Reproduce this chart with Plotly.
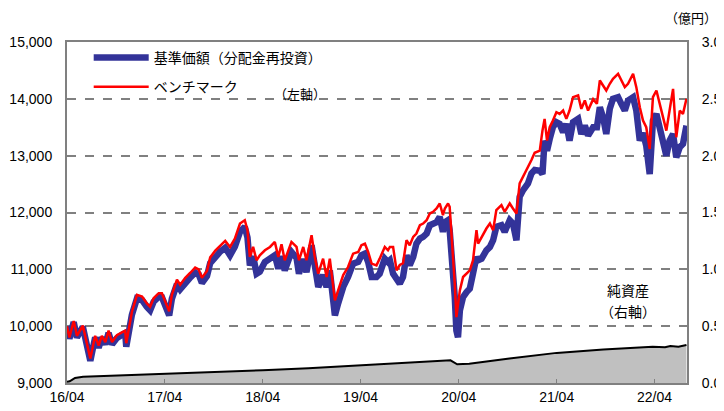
import pandas as pd
import plotly.graph_objects as go

start_date = "2016-04-01"

# days since start for the price series
price_days = [0, 9, 25, 37, 59, 68, 87, 100, 105, 118, 130, 143, 155, 168, 186, 205, 217, 221,
              242, 261, 280, 298, 310, 323, 342, 354, 366, 381, 391, 410, 422, 441, 460, 478,
              491, 503, 522, 534, 553, 571, 590, 608, 626, 645, 663, 673, 682, 694, 707, 719,
              738, 757, 775, 788, 800, 812, 837, 856, 865, 881, 893, 912, 924, 937, 955, 968,
              980, 993, 999, 1011, 1030, 1048, 1067, 1086, 1098, 1111, 1123, 1136, 1154, 1166,
              1185, 1197, 1204, 1216, 1229, 1241, 1253, 1266, 1278, 1291, 1303, 1316, 1328,
              1341, 1353, 1365, 1378, 1390, 1402, 1409, 1421, 1427, 1434, 1446, 1452, 1458,
              1465, 1477, 1490, 1502, 1514, 1527, 1533, 1546, 1564, 1577, 1589, 1601, 1620,
              1632, 1651, 1663, 1676, 1688, 1701, 1719, 1732, 1744, 1763, 1773, 1781, 1790,
              1800, 1812, 1825, 1837, 1850, 1862, 1874, 1887, 1906, 1918, 1931, 1943, 1962,
              1976, 1987, 1999, 2011, 2024, 2036, 2055, 2067, 2080, 2092, 2111, 2123, 2136,
              2148, 2160, 2173, 2185, 2198, 2210, 2223, 2235, 2247, 2260, 2272, 2285, 2297, 2310]

benchmark = [10000, 9800, 10090, 9830, 10010, 9830, 9430, 9720, 9830, 9660, 9830, 9720, 9920,
             9720, 9840, 9890, 9920, 9700, 10250, 10550, 10520, 10400, 10340, 10490, 10580,
             10580, 10430, 10260, 10550, 10820, 10730, 10850, 10940, 11030, 11000, 10850,
             10970, 11210, 11330, 11420, 11500, 11394, 11541, 11806, 11865, 11688, 11218,
             11394, 11159, 11247, 11335, 11394, 11482, 11218, 11440, 11159, 11482, 11394,
             11159, 11394, 11159, 11600, 11218, 10924, 11188, 10865, 11188, 10688, 10453,
             10630, 10900, 11040, 11276, 11306, 11424, 11453, 11306, 11100, 11070, 11188,
             11394, 11335, 11394, 11394, 10982, 11076, 11106, 11512, 11424, 11571, 11630,
             11776, 11806, 11865, 11982, 12012, 12071, 12159, 11953, 12071, 12159, 12100,
             11630, 10747, 10159, 10394, 10630, 10865, 10924, 10982, 11159, 11688, 11453,
             11571, 11718, 11806, 11688, 12041, 12130, 12012, 12159, 12071, 11982, 12512,
             12630, 12806, 12924, 13050, 13088, 13441, 13647, 13265, 13500, 13618, 13765,
             13735, 13794, 13647, 13794, 14029, 14059, 13824, 13971, 13794, 13994, 13912,
             14323, 14235, 14147, 14265, 14353, 14441, 14323, 14206, 14265, 14441, 14206,
             13853, 13618, 13500, 13118, 14029, 14147, 13912, 13676, 13441, 13794, 14176,
             13324, 13794, 13735, 14000]

fund_nav = [10000, 9780, 10070, 9800, 9990, 9800, 9390, 9690, 9800, 9620, 9800, 9680, 9880,
            9680, 9790, 9850, 9880, 9640, 10200, 10490, 10460, 10340, 10280, 10430, 10520,
            10510, 10360, 10190, 10480, 10740, 10650, 10770, 10860, 10940, 10910, 10760,
            10880, 11110, 11230, 11310, 11380, 11247, 11400, 11659, 11747, 11560, 11070,
            11230, 10924, 10960, 11130, 11190, 11247, 11012, 11230, 10980, 11306, 11200,
            10924, 11180, 10950, 11424, 11040, 10688, 10900, 10688, 10980, 10453, 10188,
            10400, 10690, 10865, 11100, 11130, 11247, 11276, 11130, 10865, 10865, 10924,
            11188, 11130, 11159, 10924, 10806, 10747, 10865, 11247, 11070, 11218, 11453,
            11541, 11571, 11630, 11776, 11806, 11830, 11924, 11659, 11830, 11865, 11690,
            11335, 10512, 9924, 9806, 10276, 10512, 10600, 10659, 10924, 11218, 11159,
            11188, 11335, 11394, 11512, 11747, 11776, 11659, 11865, 11806, 11512, 12276,
            12394, 12512, 12688, 12747, 12735, 12676, 13265, 13088, 13294, 13500, 13588,
            13559, 13412, 13559, 13265, 13588, 13647, 13382, 13529, 13353, 13500, 13500,
            13853, 13676, 13382, 13824, 14000, 14029, 13912, 13794, 13971, 14029, 13794,
            13265, 13400, 13176, 12676, 13618, 13735, 13500, 13324, 13000, 13265, 13382,
            12970, 13150, 13206, 13529]

asset_days = [0, 10, 20, 30, 60, 180, 366, 550, 730, 900, 1092, 1250, 1400, 1430, 1455,
              1500, 1650, 1826, 2000, 2184, 2230, 2250, 2280, 2310]
net_assets = [0.01, 0.015, 0.03, 0.045, 0.055, 0.065, 0.076, 0.095, 0.112, 0.13, 0.155,
              0.175, 0.195, 0.2, 0.165, 0.17, 0.215, 0.265, 0.295, 0.32, 0.315, 0.325,
              0.32, 0.335]

tick_dates = ["2016-04-01", "2017-04-01", "2018-04-01", "2019-04-01", "2020-04-01",
              "2021-04-01", "2022-04-01"]
tick_labels = ["16/04", "17/04", "18/04", "19/04", "20/04", "21/04", "22/04"]

base = pd.Timestamp(start_date)
price_dates = [base + pd.Timedelta(days=d) for d in price_days]
asset_dates = [base + pd.Timedelta(days=d) for d in asset_days]

FONT = "Liberation Sans, Arial, Noto Sans CJK JP"
JP = "Noto Sans CJK JP"
GRID = "#808080"

fig = go.Figure()
fig.add_trace(go.Scatter(x=asset_dates, y=net_assets, yaxis="y2", mode="lines",
                         line=dict(color="#000000", width=2), fill="tozeroy",
                         fillcolor="#c0c0c0", showlegend=False, hoverinfo="skip"))
fig.add_trace(go.Scatter(x=price_dates, y=fund_nav, mode="lines", name="基準価額（分配金再投資）",
                         line=dict(color="#333399", width=6.5), legendgroup="a"))
fig.add_trace(go.Scatter(x=price_dates, y=benchmark, mode="lines", name="ベンチマーク",
                         line=dict(color="#ff0000", width=2.5), legendgroup="b"))

# the page body has an 8px margin, so the figure is sized to fill the rest of the window
fig.update_layout(
    width=716, height=403,
    margin=dict(l=59, r=37, t=34, b=28, autoexpand=False),
    paper_bgcolor="white", plot_bgcolor="white",
    font=dict(family=FONT, size=14, color="#000000"),
    legend=dict(x=0.035, y=1.0, xanchor="left", yanchor="top", bgcolor="rgba(0,0,0,0)",
                font=dict(family=JP, size=14), tracegroupgap=8, itemwidth=55,
                traceorder="grouped"),
    xaxis=dict(range=[base, base + pd.Timedelta(days=2312)], tickvals=tick_dates,
               ticktext=tick_labels, showgrid=False, showline=True, linecolor=GRID,
               linewidth=2, mirror=True, ticks="inside", ticklen=4, tickcolor=GRID,
               zeroline=False, tickfont=dict(size=14), automargin=False),
    yaxis=dict(range=[9000, 15000], dtick=1000, tickformat=",d", showgrid=True,
               gridcolor=GRID, gridwidth=2, griddash="dash", showline=True,
               linecolor=GRID, linewidth=2, ticks="", zeroline=False,
               tickfont=dict(size=14), automargin=False, ticklabelstandoff=10),
    yaxis2=dict(range=[0, 3.0], dtick=0.5, tickformat=".1f", overlaying="y", side="right",
                showgrid=False, showline=True, linecolor=GRID, linewidth=2, ticks="",
                zeroline=False, tickfont=dict(size=14), automargin=False,
                ticklabelstandoff=10),
)

fig.add_annotation(x=1.052, y=1.073, xref="paper", yref="paper", xanchor="right", yanchor="middle",
                   text="（億円）", showarrow=False, font=dict(family=JP, size=13))
fig.add_annotation(x=0.375, y=0.85, xref="paper", yref="paper", xanchor="center", yanchor="middle",
                   text="（左軸）", showarrow=False, font=dict(family=JP, size=13))
fig.add_annotation(x=0.905, y=0.273, xref="paper", yref="paper", xanchor="center", yanchor="middle",
                   text="純資産", showarrow=False, font=dict(family=JP, size=14))
fig.add_annotation(x=0.905, y=0.212, xref="paper", yref="paper", xanchor="center", yanchor="middle",
                   text="（右軸）", showarrow=False, font=dict(family=JP, size=14))

fig.write_html("out.html")
